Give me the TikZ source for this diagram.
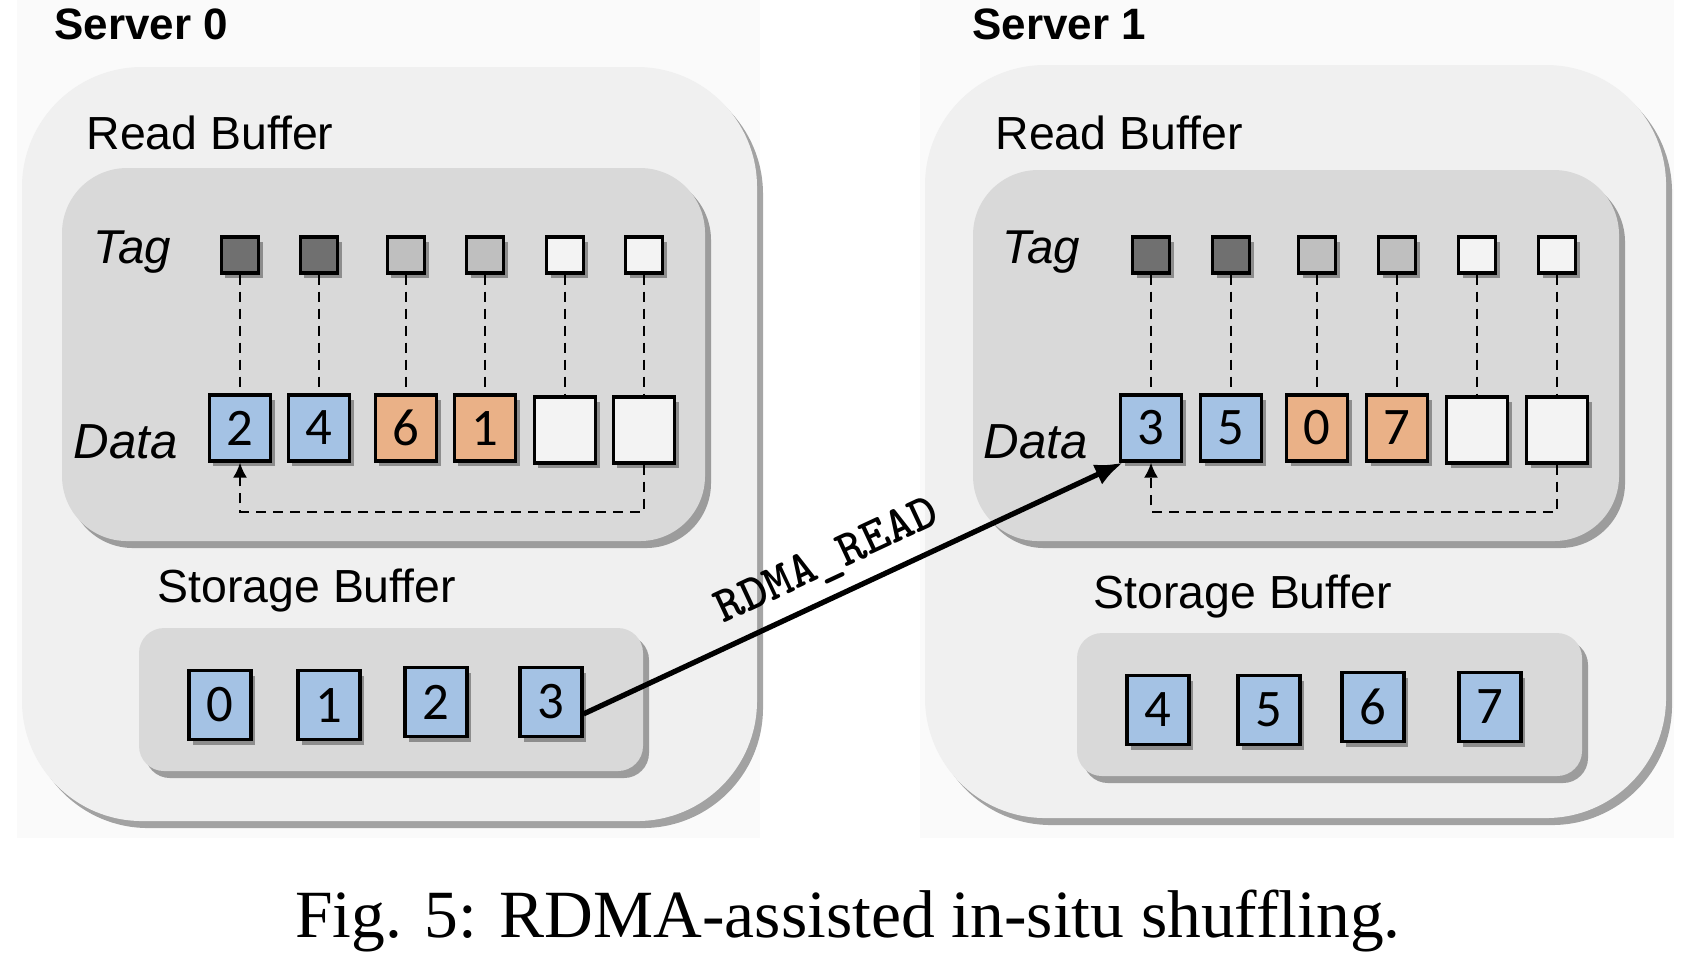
\documentclass[tikz,border=0pt]{standalone}
\usepackage{fontspec}
\setmainfont{Liberation Serif}
\newfontfamily\arial{Liberation Sans}
\newfontfamily\calibri{Carlito}
\usetikzlibrary{arrows.meta,shadows}

\definecolor{hellblau}{RGB}{164,194,228}
\definecolor{hellorange}{RGB}{234,177,135}
\definecolor{kastengrau}{RGB}{240,240,240}
\definecolor{puffergrau}{RGB}{217,217,217}
\definecolor{tagdunkel}{RGB}{112,112,112}
\definecolor{tagmittel}{RGB}{191,191,191}
\definecolor{leergrau}{RGB}{243,243,243}
\definecolor{hintergrund}{RGB}{250,250,250}

\begin{document}
\begin{tikzpicture}[x=0.01cm, y=-0.01cm, line width=0.9pt,
    schatten/.style={drop shadow={shadow xshift=0.04cm, shadow yshift=-0.05cm, opacity=0.35, fill=black}},
    grossschatten/.style={drop shadow={shadow xshift=0.06cm, shadow yshift=-0.07cm, opacity=0.35, fill=black}},
    server/.style={fill=kastengrau, rounded corners=1.2cm, grossschatten},
    lesepuffer/.style={fill=puffergrau, rounded corners=0.65cm, grossschatten},
    speicher/.style={fill=puffergrau, rounded corners=0.25cm, grossschatten},
    tagbox/.style={draw=black, line width=0.9pt, minimum width=0.37cm, minimum height=0.36cm, inner sep=0pt, schatten},
    tdunkel/.style={tagbox, fill=tagdunkel},
    tmittel/.style={tagbox, fill=tagmittel},
    thell/.style={tagbox, fill=leergrau},
    datum/.style={draw=black, line width=0.9pt, minimum width=0.61cm, minimum height=0.66cm, inner sep=0pt, font=\calibri\fontsize{15}{15}\selectfont, schatten},
    dblau/.style={datum, fill=hellblau},
    dorange/.style={datum, fill=hellorange},
    dleer/.style={datum, fill=leergrau},
    sblau/.style={dblau, minimum width=0.62cm, minimum height=0.69cm},
    titel/.style={font=\arial\bfseries\fontsize{12.5}{15}\selectfont, anchor=base west, inner sep=0pt},
    puffername/.style={font=\arial\fontsize{13.2}{15}\selectfont, anchor=base west, inner sep=0pt},
    zeile/.style={font=\arial\itshape\fontsize{14}{16}\selectfont, anchor=base west, inner sep=0pt},
    verbindung/.style={line width=0.6pt, dash pattern=on 0.1cm off 0.07cm},
    ruecklauf/.style={verbindung, -{Latex[length=0.15cm, width=0.14cm]}},
    rdma/.style={line width=1.5pt, -{Latex[length=0.28cm, width=0.22cm]}}
]
\useasboundingbox (0,0) rectangle (1686,956);

% --- Hintergrund ---
\fill[hintergrund] (17,0) rectangle (760,838);
\fill[hintergrund] (920,0) rectangle (1674,838);

% --- Server 0 ---
\node[titel] (srv0) at (53,39) {Server 0};
\fill[server] (22,67) rectangle (757,821);
\node[puffername] (rb0) at (85,149) {Read Buffer};
\fill[lesepuffer] (62,168) rectangle (705,541);
\node[zeile, font=\arial\itshape\fontsize{13.5}{16}\selectfont] (tag0) at (92,263) {Tag};
\node[zeile] (data0) at (72,458) {Data};

\node[tdunkel] (t01) at (240,255) {};
\node[tdunkel] (t02) at (319,255) {};
\node[tmittel] (t03) at (406,255) {};
\node[tmittel] (t04) at (485,255) {};
\node[thell]   (t05) at (565,255) {};
\node[thell]   (t06) at (644,255) {};

\node[dblau]   (d01) at (240,428) {2};
\node[dblau]   (d02) at (319,428) {4};
\node[dorange] (d03) at (406,428) {6};
\node[dorange] (d04) at (485,428) {1};
\node[dleer]   (d05) at (565,430) {};
\node[dleer]   (d06) at (644,430) {};

\draw[verbindung] (t01) -- (d01);
\draw[verbindung] (t02) -- (d02);
\draw[verbindung] (t03) -- (d03);
\draw[verbindung] (t04) -- (d04);
\draw[verbindung] (t05) -- (d05);
\draw[verbindung] (t06) -- (d06);
\draw[ruecklauf] (d06.south) -- ++(0,47) -| (d01.south);

\node[puffername] (sb0) at (156,602) {Storage Buffer};
\fill[speicher] (139,628) rectangle (643,771);
\node[sblau] (sp0) at (220,705) {0};
\node[sblau] (sp1) at (329,705) {1};
\node[sblau] (sp2) at (436,702) {2};
\node[sblau] (sp3) at (551,702) {3};

% --- Server 1 ---
\node[titel] (srv1) at (971,39) {Server 1};
\fill[server] (925,65) rectangle (1666,818);
\node[puffername] (rb1) at (994,149) {Read Buffer};
\fill[lesepuffer] (973,170) rectangle (1619,541);
\node[zeile, font=\arial\itshape\fontsize{13.5}{16}\selectfont] (tag1) at (1001,263) {Tag};
\node[zeile] (data1) at (982,458) {Data};

\node[tdunkel] (t11) at (1151,255) {};
\node[tdunkel] (t12) at (1231,255) {};
\node[tmittel] (t13) at (1317,255) {};
\node[tmittel] (t14) at (1397,255) {};
\node[thell]   (t15) at (1477,255) {};
\node[thell]   (t16) at (1557,255) {};

\node[dblau]   (d11) at (1151,428) {3};
\node[dblau]   (d12) at (1231,428) {5};
\node[dorange] (d13) at (1317,428) {0};
\node[dorange] (d14) at (1397,428) {7};
\node[dleer]   (d15) at (1477,430) {};
\node[dleer]   (d16) at (1557,430) {};

\draw[verbindung] (t11) -- (d11);
\draw[verbindung] (t12) -- (d12);
\draw[verbindung] (t13) -- (d13);
\draw[verbindung] (t14) -- (d14);
\draw[verbindung] (t15) -- (d15);
\draw[verbindung] (t16) -- (d16);
\draw[ruecklauf] (d16.south) -- ++(0,47) -| (d11.south);

\node[puffername] (sb1) at (1092,608) {Storage Buffer};
\fill[speicher] (1077,633) rectangle (1582,776);
\node[sblau] (sp4) at (1158,710) {4};
\node[sblau] (sp5) at (1269,710) {5};
\node[sblau] (sp6) at (1373,707) {6};
\node[sblau] (sp7) at (1490,707) {7};

% --- RDMA_READ ---
\draw[rdma] (sp3.-20) -- node[sloped, above, pos=0.48, font=\ttfamily\bfseries\fontsize{14.5}{14.5}\selectfont] (lesen) {RDMA\_READ} (d11.231);

% --- Unterschrift ---
\node[font=\fontsize{19.2}{22}\selectfont, anchor=base] (caption) at (848,937) {Fig. 5: RDMA-assisted in-situ shuffling.};

\end{tikzpicture}
\end{document}
